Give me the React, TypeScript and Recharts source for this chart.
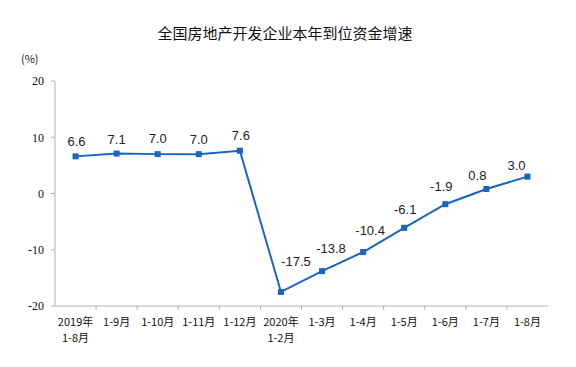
import React from 'react';
import { LineChart, Line, XAxis, YAxis } from 'recharts';

const categories = ['2019年\n1-8月', '1-9月', '1-10月', '1-11月', '1-12月', '2020年\n1-2月', '1-3月', '1-4月', '1-5月', '1-6月', '1-7月', '1-8月'];
const growth = [6.6, 7.1, 7.0, 7.0, 7.6, -17.5, -13.8, -10.4, -6.1, -1.9, 0.8, 3.0];
const yTicks = [-20, -10, 0, 10, 20];

const data = categories.map((c, i) => ({ name: c, value: growth[i] }));

const W = 576;
const H = 367;
const XH = 61;
const M = { top: 81, right: 28, bottom: 0, left: 0 };
const YW = 55;
const BAND = (W - M.right - YW) / categories.length;
const BLUE = '#1766c2';
const GRAY = '#b4b4b4';
const CJK = '"SimSun", "Noto Sans CJK SC", sans-serif';

// label placement (style only)
const LABEL_DX = [1, 0, 0, 0, 1, 15, 9, 7, 1, -4, -9, -11];
const LABEL_UP = [15, 14, 16, 15, 15, 30, 23, 22, 18, 18, 14, 11];

const XTick = (props: any) => {
  const { x, y, payload, index } = props;
  const lines = String(payload.value).split('\n');
  return (
    <g>
      {index > 0 && (
        <line x1={x - BAND / 2} x2={x - BAND / 2} y1={y - 8} y2={y - 4} stroke={GRAY} />
      )}
      {lines.map((l, k) => (
        <text key={k} x={x} y={y + 12 + k * 16} textAnchor="middle" fontSize={11} fill="#111" fontFamily={CJK}>
          {l}
        </text>
      ))}
    </g>
  );
};

const PointLabel = (props: any) => {
  const { x, y, value, index } = props;
  return (
    <text
      x={x + LABEL_DX[index]}
      y={y - LABEL_UP[index] + 4.5}
      textAnchor="middle"
      fontSize={13}
      fill="#222"
      fontFamily='"Liberation Sans", Arial, sans-serif'
    >
      {Number(value).toFixed(1)}
    </text>
  );
};

const Square = (props: any) => {
  const { cx, cy } = props;
  return <rect x={cx - 3} y={cy - 3} width={6} height={6} fill={BLUE} />;
};

export default function App() {
  return (
    <div style={{ position: 'absolute', left: 0, top: 0, width: W, height: H, background: '#fff' }}>
      <div style={{ position: 'absolute', left: 0, width: W - 6, top: 22, textAlign: 'center', fontSize: 15, fontFamily: '"Noto Sans CJK SC", sans-serif', color: '#111', lineHeight: '22px' }}>
        全国房地产开发企业本年到位资金增速
      </div>
      <div style={{ position: 'absolute', left: 21, top: 50, fontSize: 11, fontFamily: CJK, color: '#222', lineHeight: '16px' }}>
        (%)
      </div>
      <LineChart width={W} height={H} data={data} margin={M}>
        <XAxis
          dataKey="name"
          interval={0}
          tick={<XTick />}
          tickLine={false}
          axisLine={{ stroke: GRAY }}
          height={XH}
          padding={{ left: BAND / 2, right: BAND / 2 }}
        />
        <XAxis
          xAxisId="top"
          orientation="top"
          dataKey="name"
          height={0}
          tick={false}
          tickLine={false}
          axisLine={{ stroke: GRAY }}
        />
        <YAxis
          domain={[-20, 20]}
          ticks={yTicks}
          width={YW}
          tickSize={4}
          tickMargin={7}
          tickLine={{ stroke: GRAY }}
          axisLine={{ stroke: GRAY }}
          tick={{ fontSize: 12, fill: '#111', fontFamily: '"Liberation Serif", "Times New Roman", serif' }}
        />
        <YAxis
          yAxisId="right"
          orientation="right"
          domain={[-20, 20]}
          width={0}
          tick={false}
          tickLine={false}
          axisLine={{ stroke: GRAY }}
        />
        <Line
          type="linear"
          dataKey="value"
          stroke={BLUE}
          strokeWidth={2}
          dot={<Square />}
          activeDot={false}
          label={<PointLabel />}
          isAnimationActive={false}
        />
      </LineChart>
    </div>
  );
}
